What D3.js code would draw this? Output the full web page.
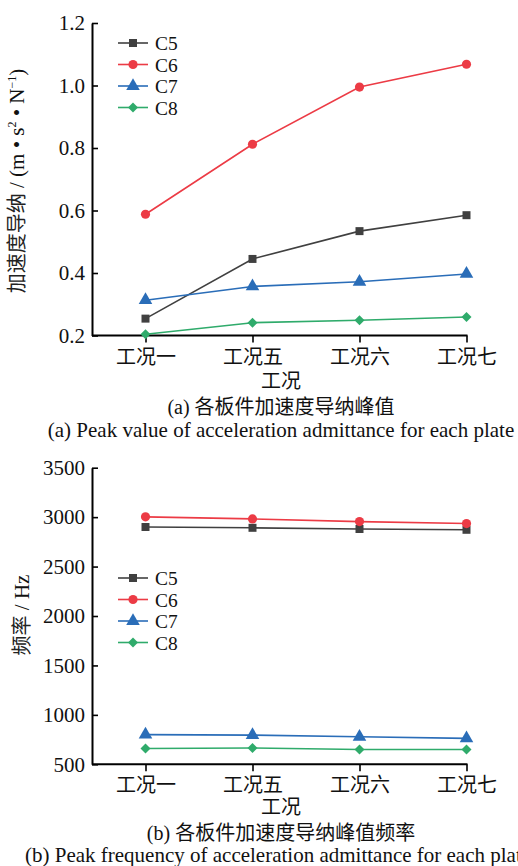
<!DOCTYPE html>
<html><head><meta charset="utf-8">
<script src="https://cdn.jsdelivr.net/npm/d3@7"></script>
<style>
html,body{margin:0;padding:0;background:#fff;}
svg{display:block;}
text{font-family:"Liberation Serif","Times New Roman","Noto Sans CJK SC",serif;fill:#111;}
</style></head><body>
<script>
// ---- data ----
const categories = ["工况一","工况五","工况六","工况七"];
const seriesNames = ["C5","C6","C7","C8"];
const peakC5 = [0.254, 0.445, 0.534, 0.585];
const peakC6 = [0.588, 0.812, 0.995, 1.068];
const peakC7 = [0.313, 0.357, 0.372, 0.397];
const peakC8 = [0.204, 0.241, 0.249, 0.259];
const freqC5 = [2900, 2892, 2880, 2872];
const freqC6 = [3003, 2982, 2955, 2935];
const freqC7 = [800, 795, 778, 762];
const freqC8 = [660, 665, 650, 650];
const peakTicks = [0.2, 0.4, 0.6, 0.8, 1.0, 1.2];
const freqTicks = [500, 1000, 1500, 2000, 2500, 3000, 3500];

const colors = {C5:"#404040", C6:"#ec3b45", C7:"#2a6db8", C8:"#2fab6b"};
const symbols = {C5:d3.symbolSquare, C6:d3.symbolCircle, C7:d3.symbolTriangle, C8:d3.symbolSquare};
const symSize = {C5:64, C6:66, C7:80, C8:50};
const symRot = {C5:0, C6:0, C7:0, C8:45};

const W = 518, H = 866;
const svg = d3.select("body").append("svg").attr("width", W).attr("height", H);

function panel(opts){
  const g = svg.append("g");
  const x = d3.scalePoint().domain(categories).range([92, 520]).padding(0.5);
  const y = d3.scaleLinear().domain(opts.domain).range(opts.yRange);
  const y0 = opts.yRange[0];

  // y axis
  const ya = g.append("g").attr("transform", `translate(92,0)`)
    .call(d3.axisLeft(y).tickValues(opts.ticks).tickFormat(opts.fmt).tickSize(-6).tickPadding(7).tickSizeOuter(0));
  ya.select(".domain").attr("stroke","#000").attr("stroke-width",2);
  ya.selectAll(".tick line").attr("stroke","#000").attr("stroke-width",1.6);
  ya.selectAll(".tick text").attr("font-size",21).attr("fill","#111")
    .style("font-family","'Liberation Serif',serif");

  // x axis
  const xa = g.append("g").attr("transform", `translate(0,${y0})`)
    .call(d3.axisBottom(x).tickSize(7).tickPadding(7).tickSizeOuter(0));
  xa.select(".domain").remove();
  xa.append("line").attr("x1", 92).attr("x2", x(categories[categories.length-1])+1)
    .attr("stroke","#000").attr("stroke-width",2);
  xa.selectAll(".tick line").attr("stroke","#000").attr("stroke-width",1.6);
  xa.selectAll(".tick text").attr("font-size",20).attr("fill","#222")
    .style("font-family","'Liberation Serif','Noto Sans CJK SC',serif");

  // lines and markers
  const line = d3.line().x((d,i)=>x(categories[i])).y(d=>y(d));
  opts.series.forEach(([name, vals])=>{
    g.append("path").datum(vals).attr("d", line).attr("fill","none")
      .attr("stroke", colors[name]).attr("stroke-width",1.6);
    g.selectAll(null).data(vals).enter().append("path")
      .attr("d", d3.symbol().type(symbols[name]).size(symSize[name]))
      .attr("transform",(d,i)=>`translate(${x(categories[i])},${y(d)}) rotate(${symRot[name]})`)
      .attr("fill", colors[name]);
  });

  // legend
  opts.series.forEach(([name], i)=>{
    const ly = opts.legendY + i*21.5;
    g.append("line").attr("x1",118).attr("x2",148).attr("y1",ly).attr("y2",ly)
      .attr("stroke",colors[name]).attr("stroke-width",1.6);
    g.append("path").attr("d", d3.symbol().type(symbols[name]).size(symSize[name]))
      .attr("transform",`translate(133,${ly}) rotate(${symRot[name]})`).attr("fill",colors[name]);
    g.append("text").attr("x",155).attr("y",ly+7).attr("font-size",19.4).text(name);
  });

  // x title
  g.append("text").attr("x",281).attr("y",opts.xTitleY).attr("text-anchor","middle")
    .attr("font-size",20).attr("fill","#222").text("工况");
  // captions
  g.append("text").attr("x",opts.capX).attr("y",opts.cap1Y).attr("text-anchor","middle")
    .attr("font-size",20).attr("fill","#222").text(opts.cap1);
  g.append("text").attr("x",opts.cap2X).attr("y",opts.cap2Y).attr("text-anchor",opts.cap2Anchor)
    .attr("font-size",21).attr("fill","#111").text(opts.cap2);
  // y title
  const yt = g.append("text").attr("transform",`translate(${opts.yTitleX},${opts.yTitleY}) rotate(-90)`)
    .attr("text-anchor","middle").attr("font-size",20);
  opts.yTitle(yt);
}

panel({
  domain:[0.2,1.2], yRange:[335.5,23], ticks:peakTicks, fmt:d3.format(".1f"),
  series:[["C5",peakC5],["C6",peakC6],["C7",peakC7],["C8",peakC8]],
  legendY:43, xTitleY:388, capX:281, cap1Y:414,
  cap1:"(a) 各板件加速度导纳峰值",
  cap2X:281, cap2Y:437, cap2Anchor:"middle", cap2:"(a) Peak value of acceleration admittance for each plate",
  yTitleX:24, yTitleY:181,
  yTitle: t=>{
    t.append("tspan").attr("fill","#222").text("加速度导纳");
    t.append("tspan").attr("font-size",21).text(" / (m • s");
    t.append("tspan").attr("font-size",12).attr("dy",-8).text("2");
    t.append("tspan").attr("font-size",21).attr("dy",8).text(" • N");
    t.append("tspan").attr("font-size",12).attr("dy",-8).text("−1");
    t.append("tspan").attr("font-size",21).attr("dy",8).text(")");
  }
});

panel({
  domain:[500,3500], yRange:[764.3,467.7], ticks:freqTicks, fmt:d3.format("d"),
  series:[["C5",freqC5],["C6",freqC6],["C7",freqC7],["C8",freqC8]],
  legendY:578, xTitleY:814, capX:281, cap1Y:839.5,
  cap1:"(b) 各板件加速度导纳峰值频率",
  cap2X:25, cap2Y:862, cap2Anchor:"start", cap2:"(b) Peak frequency of acceleration admittance for each plate",
  yTitleX:29, yTitleY:615,
  yTitle: t=>{
    t.append("tspan").attr("fill","#222").text("频率");
    t.append("tspan").attr("font-size",21).text(" / Hz");
  }
});
</script>
</body></html>
